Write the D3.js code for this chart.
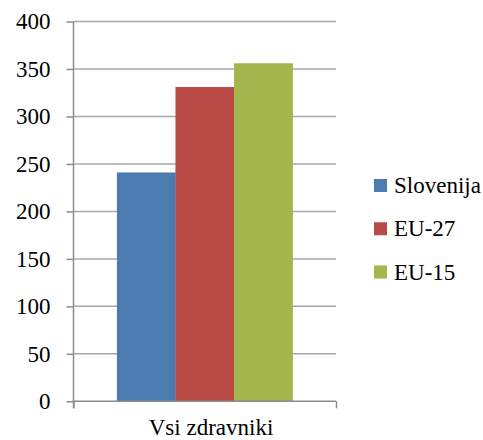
<!DOCTYPE html>
<html>
<head>
<meta charset="utf-8">
<script src="https://cdn.jsdelivr.net/npm/d3@7"></script>
<style>
  html, body { margin: 0; padding: 0; background: #fff; }
  svg#chart text, svg#chart g text, svg#chart .tick text {
    font-family: "Liberation Serif" !important;
    font-size: 23px !important;
  }
</style>
</head>
<body>
<svg id="chart" width="483" height="440"></svg>
<script>
// Physicians per 100 000 inhabitants
const category = "Vsi zdravniki";
const seriesNames = ["Slovenija", "EU-27", "EU-15"];
const seriesValues = [241, 331, 356];
const seriesColors = ["#4C7BB0", "#B94A45", "#A3B54B"];
const yTicks = [0, 50, 100, 150, 200, 250, 300, 350, 400];

const svg = d3.select("#chart");
const plot = { left: 73.5, right: 336, top: 21.5, bottom: 401.3 };

const y = d3.scaleLinear().domain([0, 400]).range([plot.bottom, plot.top]);
const x0 = d3.scaleBand().domain([category]).range([plot.left, plot.right]).paddingInner(0).paddingOuter(0.247);
const x1 = d3.scaleBand().domain(seriesNames).range([0, x0.bandwidth()]).padding(0);

// horizontal gridlines
svg.append("g")
  .selectAll("line")
  .data(yTicks.filter(d => d > 0))
  .join("line")
  .attr("x1", plot.left).attr("x2", plot.right)
  .attr("y1", d => y(d)).attr("y2", d => y(d))
  .attr("stroke", "#A8A8A8").attr("stroke-width", 1.5);

// bars
svg.append("g")
  .selectAll("rect")
  .data(seriesValues.map((v, i) => ({ name: seriesNames[i], value: v, color: seriesColors[i] })))
  .join("rect")
  .attr("x", d => x0(category) + x1(d.name))
  .attr("width", x1.bandwidth() + 0.3)
  .attr("y", d => y(d.value))
  .attr("height", d => plot.bottom - y(d.value))
  .attr("fill", d => d.color);

// y axis
const yAxis = d3.axisLeft(y).tickValues(yTicks).tickSize(7).tickPadding(16);
const gy = svg.append("g").attr("transform", `translate(${plot.left},0)`).call(yAxis);
gy.attr("font-family", "Liberation Serif").attr("font-size", 23);
gy.select(".domain").attr("stroke", "#8C8C8C").attr("stroke-width", 1.5)
  .attr("d", `M0,${plot.top}V${plot.bottom + 7}`);
gy.selectAll(".tick line").attr("stroke", "#8C8C8C").attr("stroke-width", 1.5);
gy.selectAll(".tick text").attr("fill", "#000");

// x axis
const xAxis = d3.axisBottom(d3.scaleLinear().domain([0, 1]).range([plot.left, plot.right]))
  .tickValues([0, 1]).tickSize(7).tickFormat("");
const gx = svg.append("g").attr("transform", `translate(0,${plot.bottom})`).call(xAxis);
gx.select(".domain").attr("stroke", "#8C8C8C").attr("stroke-width", 1.5)
  .attr("d", `M${plot.left},0H${plot.right}`);
gx.selectAll(".tick line").attr("stroke", "#8C8C8C").attr("stroke-width", 1.5);
gx.selectAll(".tick text").remove();

svg.append("text")
  .attr("x", 211).attr("y", 435)
  .attr("text-anchor", "middle")
  .text(category);

// legend
const legend = svg.append("g");
const ly = d3.scalePoint().domain(seriesNames).range([185.5, 272]);
seriesNames.forEach((name, i) => {
  legend.append("rect")
    .attr("x", 374).attr("y", ly(name) - 6.5)
    .attr("width", 13).attr("height", 13)
    .attr("fill", seriesColors[i]);
  legend.append("text")
    .attr("x", 394).attr("y", ly(name) + 7.5)
    .text(name);
});
</script>
</body>
</html>
